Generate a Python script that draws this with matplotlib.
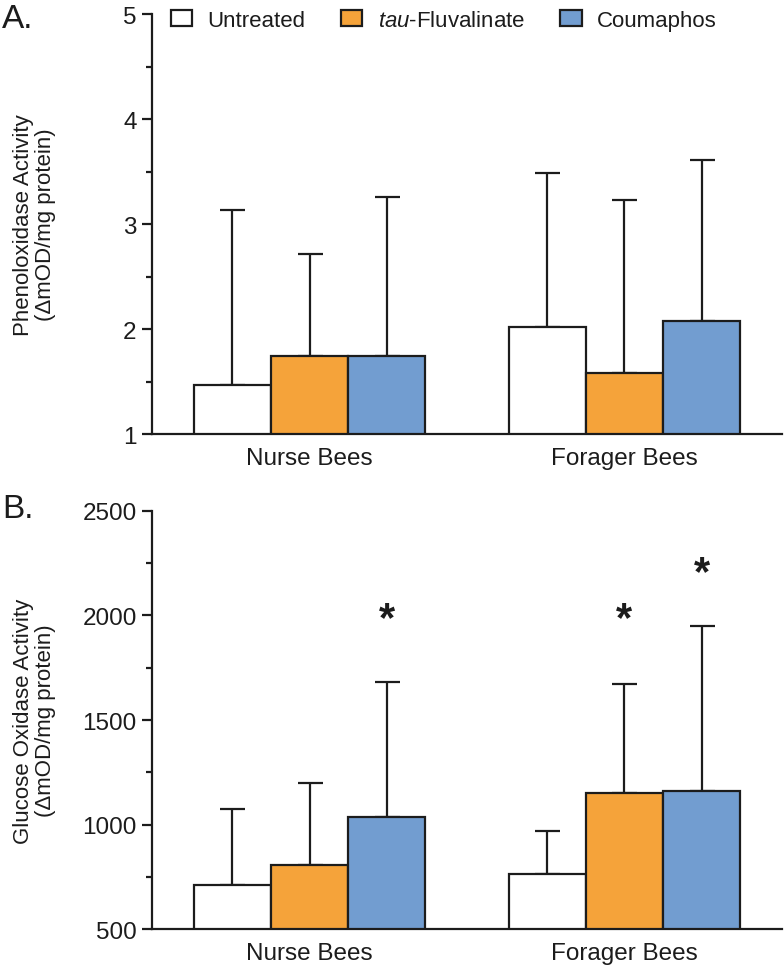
import numpy as np
import matplotlib.pyplot as plt
from matplotlib.patches import Patch
from matplotlib.ticker import MultipleLocator

plt.rcParams['font.family'] = ['Liberation Sans', 'DejaVu Sans']
plt.rcParams['mathtext.fontset'] = 'custom'
plt.rcParams['mathtext.rm'] = 'Liberation Sans'
plt.rcParams['mathtext.it'] = 'Liberation Sans:italic'

groups = ["Nurse Bees", "Forager Bees"]
treatments = ["Untreated", r"$\mathit{tau}$-Fluvalinate", "Coumaphos"]
colors = ["#FFFFFF", "#F5A33A", "#729DD0"]

# panel A: phenoloxidase activity (mean, upper error)
po_mean = [[1.47, 2.02], [1.745, 1.58], [1.745, 2.08]]
po_err = [[1.66, 1.47], [0.965, 1.65], [1.515, 1.53]]

# panel B: glucose oxidase activity
go_mean = [[710, 763], [807, 1150], [1037, 1159]]
go_err = [[366, 208], [392, 522], [644, 789]]
go_star = [[False, False], [False, True], [True, True]]
go_star_y = [[None, None], [None, 1982], [1982, 2202]]

INK = "#1c1c1c"
W = 0.245
x = np.arange(len(groups))
offsets = [-W, 0, W]


def style_axis(ax, ylim, major, minor):
    ax.set_xlim(-0.5, 1.5)
    ax.set_ylim(*ylim)
    ax.yaxis.set_major_locator(MultipleLocator(major))
    ax.yaxis.set_minor_locator(MultipleLocator(minor))
    for s in ["top", "right"]:
        ax.spines[s].set_visible(False)
    for s in ["left", "bottom"]:
        ax.spines[s].set_linewidth(1.6)
        ax.spines[s].set_color(INK)
    ax.tick_params(axis="y", which="major", length=7, width=1.6, pad=4,
                   labelsize=17.5, colors=INK)
    ax.tick_params(axis="y", which="minor", length=4, width=1.6, colors=INK)
    ax.tick_params(axis="x", length=0, pad=9, labelsize=17.5, colors=INK)
    ax.set_xticks(x)
    ax.set_xticklabels(groups)


def draw_bars(ax, means, errs, floor):
    for i in range(3):
        heights = np.array(means[i]) - floor
        ax.bar(x + offsets[i], heights, W, bottom=floor, color=colors[i],
               edgecolor=INK, linewidth=1.6, zorder=3)
        ax.errorbar(x + offsets[i], means[i],
                    yerr=[np.zeros(len(groups)), errs[i]],
                    fmt="none", ecolor=INK, elinewidth=1.6, capsize=9,
                    capthick=1.6, zorder=2)


fig = plt.figure(figsize=(7.84, 9.70), dpi=100)
axA = fig.add_axes([0.1939, 0.5515, 0.8035, 0.433])
axB = fig.add_axes([0.1939, 0.0409, 0.8035, 0.4316])

draw_bars(axA, po_mean, po_err, 1)
style_axis(axA, (1, 5), 1, 0.5)
axA.set_ylabel("Phenoloxidase Activity\n(ΔmOD/mg protein)", fontsize=16,
               linespacing=1.05, color=INK)
axA.yaxis.set_label_coords(-0.152, 0.5)

draw_bars(axB, go_mean, go_err, 500)
style_axis(axB, (500, 2500), 500, 250)
axB.set_ylabel("Glucose Oxidase Activity\n(ΔmOD/mg protein)", fontsize=16,
               linespacing=1.05, color=INK)
axB.yaxis.set_label_coords(-0.152, 0.5)

for i in range(3):
    for j in range(len(groups)):
        if go_star[i][j]:
            axB.text(x[j] + offsets[i], go_star_y[i][j], "*", ha="center",
                     va="center", fontsize=30, fontweight="bold", color=INK)

handles = [Patch(facecolor=c, edgecolor=INK, linewidth=1.6) for c in colors]
fig.legend(handles, treatments, loc="upper left",
           bbox_to_anchor=(171 / 784, 1 - 11 / 970), ncol=3, frameon=False,
           fontsize=16, handlelength=0.95, handleheight=0.7,
           handletextpad=0.7, columnspacing=1.6, borderpad=0,
           borderaxespad=0, labelcolor=INK)

fig.text(2 / 784, 1 - 4 / 970, "A.", fontsize=24, va="top", ha="left",
         color=INK)
fig.text(2 / 784, 1 - 494 / 970, "B.", fontsize=24, va="top", ha="left",
         color=INK)

fig.savefig("out.png", dpi=100)
